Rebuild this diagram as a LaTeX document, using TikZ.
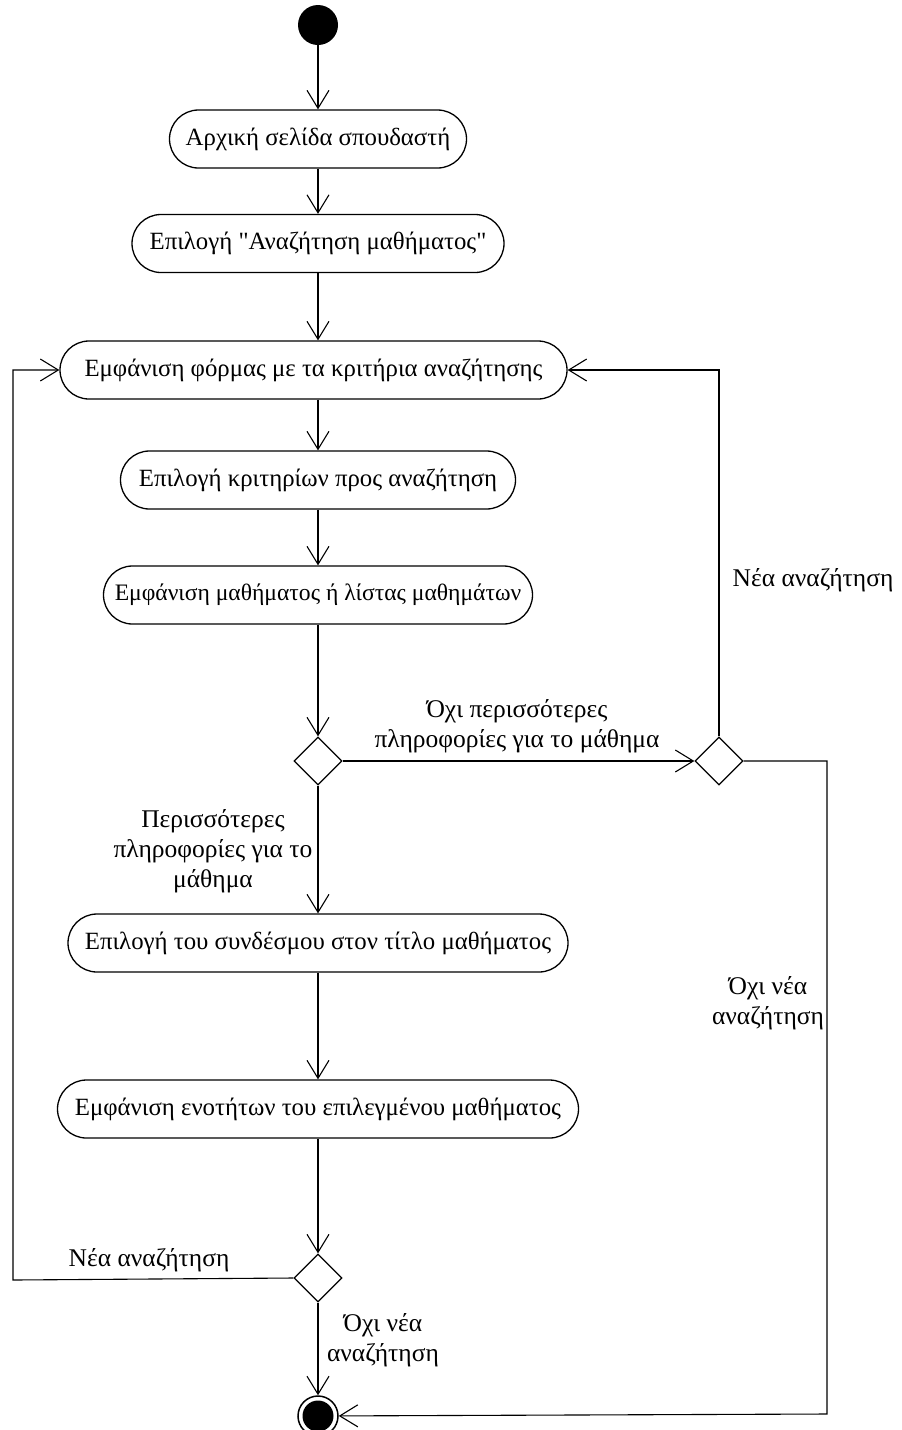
\documentclass[tikz,border=0pt]{standalone}
\usepackage{fontspec}
% a family of its own keeps the straight double quote (no tex-text mapping)
\newfontfamily\diagfont{Liberation Serif}
\usetikzlibrary{shapes.geometric,arrows.meta}
\begin{document}
\begin{tikzpicture}[x=1pt,y=-1pt,
  every node/.style={font=\diagfont\fontsize{25.5}{30}\selectfont},
  action/.style={draw,line width=1.3pt,rounded corners=29pt,minimum height=58pt,inner xsep=3pt,inner ysep=0pt,
    font=\diagfont\fontsize{24.8}{30}\selectfont},
  decision/.style={draw,line width=1.3pt,diamond,aspect=1,minimum width=48pt,minimum height=48pt,inner sep=0pt,fill=white},
  flow/.style={line width=1.1pt,-{Straight Barb[length=18pt,width=22pt,line width=1.1pt]}},
  lbl/.style={align=center,inner sep=0pt}]
\useasboundingbox (0,0) rectangle (902,1430);

% initial and final states
\node[circle,fill=black,minimum size=40pt,inner sep=0pt] (start) at (318,25) {};
\node[circle,draw,line width=1.5pt,minimum size=40pt,inner sep=0pt] (end) at (318,1416) {};
\fill (end) circle (15.5pt);

% actions
\node[action,minimum width=297pt] (n1) at (318,139) {Αρχική σελίδα σπουδαστή};
\node[action,minimum width=372pt] (n2) at (318,243.5) {Επιλογή "Αναζήτηση μαθήματος"};
\node[action,minimum width=507pt] (n3) at (313.5,370) {Εμφάνιση φόρμας με τα κριτήρια αναζήτησης};
\node[action,minimum width=395pt] (n4) at (318,480) {Επιλογή κριτηρίων προς αναζήτηση};
\node[action,minimum width=429pt,font=\diagfont\fontsize{23.6}{30}\selectfont] (n5) at (318,595) {Εμφάνιση μαθήματος ή λίστας μαθημάτων};
\node[action,minimum width=500pt] (n6) at (318,943) {Επιλογή του συνδέσμου στον τίτλο μαθήματος};
\node[action,minimum width=521pt] (n7) at (318,1109) {Εμφάνιση ενοτήτων του επιλεγμένου μαθήματος};

% decisions
\node[decision] (d1) at (318,761) {};
\node[decision] (d2) at (719,761) {};
\node[decision] (d3) at (318,1278) {};

% corner points of the loops
\coordinate (r1) at (719,370);
\coordinate (r2) at (827,761);
\coordinate (r3) at (827,1414);
\coordinate (l1) at (13,1280);
\coordinate (l2) at (13,370);

% main flow
\draw[flow] (start) -- (n1);
\draw[flow] (n1) -- (n2);
\draw[flow] (n2.south) -- (n2.south |- n3.north);
\draw[flow] (n3.south -| n4.north) -- (n4);
\draw[flow] (n4.south -| n5.north) -- (n5.north);
\draw[flow] (n5.south -| d1.north) -- (d1.north);
\draw[flow] (d1.east) -- (d2.west);
\draw[flow] (d1.south) -- (d1.south |- n6.north);
\draw[flow] (n6.south -| n7.north) -- (n7.north);
\draw[flow] (n7.south -| d3.north) -- (d3.north);
\draw[flow] (d3.south) -- (end);

% loops back to the search form
\draw[flow] (d2.north) -- (r1) -- (n3.east);
\draw[flow] (d3.west) -- (l1) -- (l2) -- (n3.west);
\draw[flow] (d2.east) -- (r2) -- (r3) -- (end);

% guard labels
\node[lbl] at (517,726) {Όχι περισσότερες\\πληροφορίες για το μάθημα};
\node[lbl] at (213,851) {Περισσότερες\\πληροφορίες για το\\μάθημα};
\node[lbl] at (813,580) {Νέα αναζήτηση};
\node[lbl] at (768,1003) {Όχι νέα\\αναζήτηση};
\node[lbl] at (149,1260) {Νέα αναζήτηση};
\node[lbl] at (383,1340) {Όχι νέα\\αναζήτηση};
\end{tikzpicture}
\end{document}
